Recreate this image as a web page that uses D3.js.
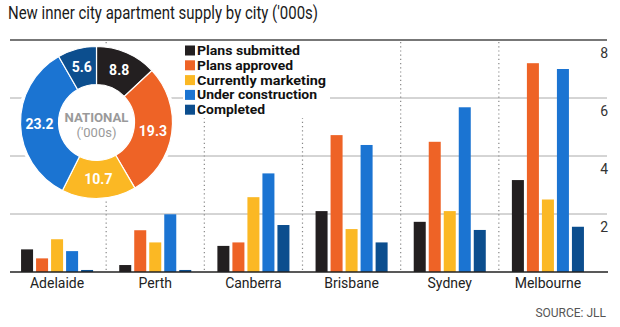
<!DOCTYPE html>
<html>
<head>
<meta charset="utf-8">
<script src="https://cdn.jsdelivr.net/npm/d3@7"></script>
<style>
  body { margin: 0; background: #fff; }
  svg { display: block; font-family: "Open Sans", Roboto, sans-serif; }
</style>
</head>
<body>
<div id="chart"></div>
<script>
const cities = ["Adelaide", "Perth", "Canberra", "Brisbane", "Sydney", "Melbourne"];
const seriesNames = ["Plans submitted", "Plans approved", "Currently marketing", "Under construction", "Completed"];
const seriesColors = ["#231f20", "#ee6326", "#fbb824", "#1b74d2", "#0c4e8e"];

const plansSubmitted = [0.78, 0.24, 0.9, 2.1, 1.73, 3.17];
const plansApproved = [0.47, 1.44, 1.02, 4.72, 4.49, 7.2];
const currentlyMarketing = [1.13, 1.02, 2.58, 1.48, 2.1, 2.5];
const underConstruction = [0.72, 1.99, 3.4, 4.38, 5.68, 7.0];
const completed = [0.07, 0.07, 1.62, 1.02, 1.45, 1.56];

const national = [8.8, 19.3, 10.7, 23.2, 5.6];
const yTicks = [2, 4, 6, 8];

const width = 620, height = 327;
const seriesValues = [plansSubmitted, plansApproved, currentlyMarketing, underConstruction, completed];

const svg = d3.select("#chart").append("svg")
    .attr("width", width)
    .attr("height", height);

// title
svg.append("text")
    .attr("x", 8)
    .attr("y", 19)
    .attr("font-family", "Roboto, sans-serif")
    .attr("font-size", 18.5)
    .attr("fill", "#1a1a1a")
    .attr("textLength", 310)
    .attr("lengthAdjust", "spacingAndGlyphs")
    .text("New inner city apartment supply by city ('000s)");

const x = d3.scaleBand()
    .domain(cities)
    .range([8, 597]);

const xInner = d3.scaleBand()
    .domain(seriesNames)
    .range([0, x.bandwidth()])
    .paddingInner(0.2)
    .paddingOuter(0.87);

const y = d3.scaleLinear()
    .domain([0, 8])
    .range([272, 40]);

// gridlines
svg.append("g").selectAll("line")
    .data(yTicks)
    .enter()
    .append("line")
    .attr("x1", 10)
    .attr("x2", 607)
    .attr("y1", d => y(d))
    .attr("y2", d => y(d))
    .attr("stroke", d => d === 8 ? "#777" : "#aaa")
    .attr("stroke-width", d => d === 8 ? 2 : 1);

// tick labels, right side, under each gridline
svg.append("g").selectAll("text")
    .data(yTicks)
    .enter()
    .append("text")
    .attr("x", 608)
    .attr("y", d => y(d) + 18)
    .attr("text-anchor", "end")
    .attr("font-family", "Roboto, sans-serif")
    .attr("font-size", 14)
    .attr("fill", "#333")
    .text(d => d);

// dotted separators between cities
svg.append("g").selectAll("line")
    .data(cities.slice(1))
    .enter()
    .append("line")
    .attr("x1", d => x(d))
    .attr("x2", d => x(d))
    .attr("y1", y(8) + 2)
    .attr("y2", y(0) - 2)
    .attr("stroke", "#888")
    .attr("stroke-width", 1.2)
    .attr("stroke-dasharray", "1.2,3");

// bars
const groups = svg.append("g").selectAll("g")
    .data(cities)
    .enter()
    .append("g")
    .attr("transform", d => `translate(${x(d)},0)`);

groups.selectAll("rect")
    .data((d, i) => seriesNames.map((s, j) => ({key: s, value: seriesValues[j][i], color: seriesColors[j]})))
    .enter()
    .append("rect")
    .attr("x", d => xInner(d.key))
    .attr("width", xInner.bandwidth())
    .attr("y", d => y(d.value))
    .attr("height", d => y(0) - y(d.value))
    .attr("fill", d => d.color);

// baseline
svg.append("line")
    .attr("x1", 10)
    .attr("x2", 608)
    .attr("y1", y(0))
    .attr("y2", y(0))
    .attr("stroke", "#222")
    .attr("stroke-width", 1.5);

// city labels
svg.append("g").selectAll("text")
    .data(cities)
    .enter()
    .append("text")
    .attr("x", d => x(d) + x.bandwidth() / 2)
    .attr("y", 288)
    .attr("text-anchor", "middle")
    .attr("font-family", "Roboto, sans-serif")
    .attr("font-size", 14)
    .attr("fill", "#222")
    .text(d => d);

// source
svg.append("text")
    .attr("x", 606)
    .attr("y", 317)
    .attr("text-anchor", "end")
    .attr("font-family", "Roboto, sans-serif")
    .attr("font-size", 12)
    .attr("fill", "#555")
    .text("SOURCE: JLL");

// donut
const cx = 96.5, cy = 122.5, outerR = 76, innerR = 38;
const donut = svg.append("g").attr("transform", `translate(${cx},${cy})`);

donut.append("circle")
    .attr("r", outerR + 3)
    .attr("fill", "#fff");

const pie = d3.pie().sort(null)(national);
const arc = d3.arc().innerRadius(innerR).outerRadius(outerR);
const labelArc = d3.arc().innerRadius(57).outerRadius(57);

donut.selectAll("path")
    .data(pie)
    .enter()
    .append("path")
    .attr("d", arc)
    .attr("fill", (d, i) => seriesColors[i])
    .attr("stroke", "#fff")
    .attr("stroke-width", 1.2);

donut.selectAll("text.val")
    .data(pie)
    .enter()
    .append("text")
    .attr("class", "val")
    .attr("transform", d => `translate(${labelArc.centroid(d)})`)
    .attr("dy", "0.35em")
    .attr("text-anchor", "middle")
    .attr("font-family", "Roboto, sans-serif")
    .attr("font-size", 14)
    .attr("font-weight", "bold")
    .attr("fill", "#fff")
    .text(d => d.data);

donut.append("text")
    .attr("y", -1)
    .attr("text-anchor", "middle")
    .attr("font-family", "Roboto, sans-serif")
    .attr("font-size", 13)
    .attr("font-weight", "bold")
    .attr("fill", "#9a9a9a")
    .attr("textLength", 64)
    .attr("lengthAdjust", "spacingAndGlyphs")
    .text("NATIONAL");
donut.append("text")
    .attr("y", 14.5)
    .attr("text-anchor", "middle")
    .attr("font-family", "Roboto, sans-serif")
    .attr("font-size", 13)
    .attr("fill", "#9a9a9a")
    .text("('000s)");

// legend
const legend = svg.append("g");
legend.append("rect")
    .attr("x", 183)
    .attr("y", 42)
    .attr("width", 147)
    .attr("height", 76)
    .attr("fill", "#fff");

const legendWidths = [103, 96, 129, 120, 68];

const legendRows = legend.selectAll("g")
    .data(seriesNames)
    .enter()
    .append("g")
    .attr("transform", (d, i) => `translate(185,${50.5 + i * 14.8})`);

legendRows.append("rect")
    .attr("x", 0)
    .attr("y", -5)
    .attr("width", 10)
    .attr("height", 10)
    .attr("fill", (d, i) => seriesColors[i]);

legendRows.append("text")
    .attr("x", 12)
    .attr("y", 4.5)
    .attr("font-family", "Roboto, sans-serif")
    .attr("font-size", 12.5)
    .attr("font-weight", "bold")
    .attr("fill", "#111")
    .attr("textLength", (d, i) => legendWidths[i])
    .attr("lengthAdjust", "spacingAndGlyphs")
    .text(d => d);
</script>
</body>
</html>
